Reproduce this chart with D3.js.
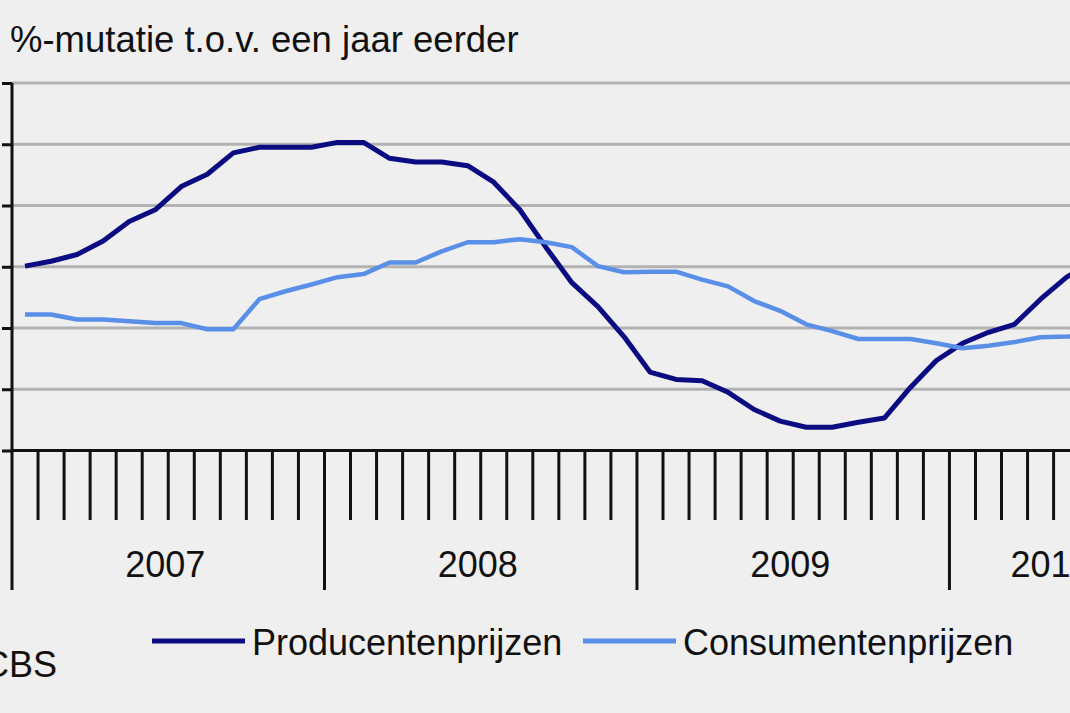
<!DOCTYPE html>
<html>
<head>
<meta charset="utf-8">
<script src="https://cdn.jsdelivr.net/npm/d3@7"></script>
<style>
  html, body { margin: 0; padding: 0; background: #efefef; overflow: hidden; }
  svg { display: block; font-family: "Liberation Sans", Arial, sans-serif; }
</style>
</head>
<body>
<svg id="chart" width="1070" height="713"></svg>
<script>
// maandcategorieën jan 2007 t/m aug 2010 (rechterkant valt buiten beeld)
const months = d3.timeMonth.range(new Date(2007, 0, 1), new Date(2010, 8, 1)).map(d3.timeFormat("%Y-%m"));
const years = ["2007", "2008", "2009", "2010"];
const yTicks = [-1, 0, 1, 2, 3, 4, 5];

// %-mutatie t.o.v. een jaar eerder
const producentenprijzen = [
  2.01, 2.09, 2.2, 2.42, 2.74, 2.93, 3.31, 3.51, 3.86, 3.95, 3.95, 3.95,
  4.03, 4.03, 3.77, 3.71, 3.71, 3.65, 3.38, 2.93, 2.32, 1.74, 1.35, 0.86,
  0.28, 0.16, 0.14, -0.05, -0.33, -0.52, -0.62, -0.62, -0.54, -0.47, 0.03, 0.47,
  0.75, 0.93, 1.06, 1.47, 1.83, 2.09
];
const consumentenprijzen = [
  1.22, 1.22, 1.14, 1.14, 1.11, 1.08, 1.08, 0.98, 0.98, 1.47, 1.6, 1.71,
  1.83, 1.88, 2.07, 2.07, 2.25, 2.4, 2.4, 2.45, 2.4, 2.32, 2.01, 1.91,
  1.92, 1.92, 1.79, 1.68, 1.44, 1.28, 1.06, 0.95, 0.82, 0.82, 0.82, 0.75,
  0.67, 0.71, 0.77, 0.85, 0.86, 0.88
];

const series = [
  { name: "Producentenprijzen", values: producentenprijzen, color: "#0c0c82", width: 5 },
  { name: "Consumentenprijzen", values: consumentenprijzen, color: "#5a8fe8", width: 4.5 },
];

const svg = d3.select("#chart");
const width = 1070;
const margin = { top: 83, left: 12 };
const plotBottom = 450.5;
const monthWidth = 26.04;

const x = d3
  .scaleBand()
  .domain(months)
  .range([margin.left, margin.left + months.length * monthWidth])
  .paddingInner(0)
  .paddingOuter(0);

const y = d3.scaleLinear().domain([-1, 5]).range([plotBottom, margin.top]);

svg.append("rect").attr("width", width).attr("height", 713).attr("fill", "#efefef");

// titel
svg
  .append("text")
  .attr("x", 10)
  .attr("y", 52)
  .attr("font-size", 36.5)
  .attr("fill", "#111")
  .text("%-mutatie t.o.v. een jaar eerder");

// rasterlijnen
svg
  .append("g")
  .selectAll("line")
  .data(yTicks.filter((d) => d !== -1))
  .join("line")
  .attr("x1", margin.left)
  .attr("x2", width)
  .attr("y1", (d) => y(d))
  .attr("y2", (d) => y(d))
  .attr("stroke", "#b2b2b2")
  .attr("stroke-width", 3);

// y-as met korte streepjes (labels vallen buiten beeld)
svg
  .append("g")
  .attr("transform", `translate(${margin.left},0)`)
  .call(d3.axisLeft(y).tickValues(yTicks).tickSize(10).tickFormat(""))
  .call((g) => g.select(".domain").remove())
  .call((g) => g.selectAll(".tick line").attr("stroke", "#111").attr("stroke-width", 3));

svg
  .append("line")
  .attr("x1", margin.left)
  .attr("x2", margin.left)
  .attr("y1", margin.top)
  .attr("y2", 590)
  .attr("stroke", "#111")
  .attr("stroke-width", 3);

// x-as
svg
  .append("line")
  .attr("x1", margin.left)
  .attr("x2", width)
  .attr("y1", plotBottom)
  .attr("y2", plotBottom)
  .attr("stroke", "#111")
  .attr("stroke-width", 3);

svg
  .append("g")
  .selectAll("line")
  .data(months.slice(1))
  .join("line")
  .attr("x1", (d) => x(d))
  .attr("x2", (d) => x(d))
  .attr("y1", plotBottom)
  .attr("y2", (d) => (d.endsWith("-01") ? 590 : 520))
  .attr("stroke", "#111")
  .attr("stroke-width", 3);

// jaartallen in het midden van hun maanden
const yearCenter = (yr) => {
  const m = months.filter((d) => d.startsWith(yr));
  return (x(m[0]) + x(m[m.length - 1]) + x.bandwidth()) / 2;
};

svg
  .append("g")
  .selectAll("text")
  .data(years)
  .join("text")
  .attr("x", (d) => yearCenter(d) - 3)
  .attr("y", 577)
  .attr("text-anchor", "middle")
  .attr("font-size", 36)
  .attr("fill", "#111")
  .text((d) => d);

// lijnen
const line = d3
  .line()
  .x((d, i) => x(months[i]) + x.bandwidth() / 2)
  .y((d) => y(d));

series.forEach((s) => {
  svg
    .append("path")
    .datum(s.values)
    .attr("fill", "none")
    .attr("stroke", s.color)
    .attr("stroke-width", s.width)
    .attr("stroke-linejoin", "round")
    .attr("d", line);
});

// legenda
const legendX = [152, 583];
const legend = svg
  .append("g")
  .selectAll("g")
  .data(series)
  .join("g")
  .attr("transform", (d, i) => `translate(${legendX[i]},641)`);

legend
  .append("line")
  .attr("x1", 0)
  .attr("x2", 93)
  .attr("stroke", (d) => d.color)
  .attr("stroke-width", 5);

legend
  .append("text")
  .attr("x", 100)
  .attr("y", 14)
  .attr("font-size", 36)
  .attr("fill", "#111")
  .text((d) => d.name);

// bron
svg
  .append("text")
  .attr("x", -17)
  .attr("y", 677)
  .attr("font-size", 36)
  .attr("fill", "#111")
  .text("CBS");
</script>
</body>
</html>
